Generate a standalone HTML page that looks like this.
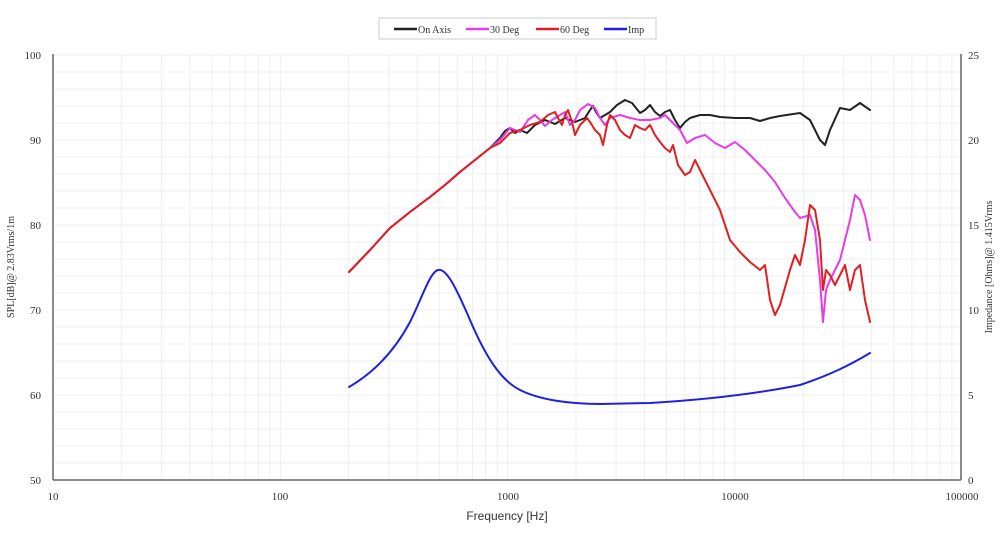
<!DOCTYPE html>
<html><head><meta charset="utf-8"><style>
body{margin:0;background:#fff;width:1000px;height:529px;overflow:hidden}
text{font-family:"Liberation Serif",serif}
.t{font-family:"Liberation Sans",sans-serif;font-size:11px;fill:#333}
</style></head><body>
<svg width="1000" height="529" xmlns="http://www.w3.org/2000/svg">
<path stroke="#efefef" stroke-width="1" fill="none" d="
M121.4 54V480M161.5 54V480M189.8 54V480M211.9 54V480M229.9 54V480M245.1 54V480M258.3 54V480M269.9 54V480M280.3 54V480
M348.7 54V480M388.8 54V480M417.1 54V480M439.2 54V480M457.2 54V480M472.4 54V480M485.6 54V480M497.2 54V480M507.6 54V480
M576 54V480M616.1 54V480M644.4 54V480M666.5 54V480M684.5 54V480M699.7 54V480M712.9 54V480M724.5 54V480M734.9 54V480
M803.3 54V480M843.4 54V480M871.7 54V480M893.8 54V480M911.8 54V480M927 54V480M940.2 54V480M951.8 54V480
M53 55H961M53 72H961M53 89H961M53 106H961M53 123H961M53 140H961M53 157H961M53 174H961M53 191H961M53 208H961M53 225H961M53 242H961M53 259H961M53 276H961M53 293H961M53 310H961M53 327H961M53 344H961M53 361H961M53 378H961M53 395H961M53 412H961M53 429H961M53 446H961M53 463H961"/>
<line x1="53" y1="54" x2="53" y2="480" stroke="#666" stroke-width="1.5"/>
<line x1="53" y1="480" x2="961" y2="480" stroke="#666" stroke-width="1.5"/>
<line x1="961" y1="54" x2="961" y2="480" stroke="#666" stroke-width="1.5"/>
<g class="t" text-anchor="end">
<text x="41" y="59">100</text><text x="41" y="144">90</text><text x="41" y="229">80</text><text x="41" y="314">70</text><text x="41" y="399">60</text><text x="41" y="484">50</text></g>
<g font-size="11" fill="#333"><text x="968" y="59">25</text><text x="968" y="144">20</text><text x="968" y="229">15</text><text x="968" y="314">10</text><text x="968" y="399">5</text><text x="968" y="484">0</text></g>
<g class="t" text-anchor="middle">
<text x="53" y="500">10</text><text x="280" y="500">100</text><text x="508" y="500">1000</text><text x="735" y="500">10000</text><text x="962" y="500">100000</text></g>
<text x="507" y="520" text-anchor="middle" style="font-family:'Liberation Sans',sans-serif;font-size:12px;fill:#333">Frequency [Hz]</text>
<text transform="translate(14,267) rotate(-90)" text-anchor="middle" font-size="10" fill="#333">SPL[dB]@ 2.83Vrms/1m</text>
<text transform="translate(992,267) rotate(-90)" text-anchor="middle" font-size="10" fill="#333">Impedance [Ohms]@ 1.415Vrms</text>
<rect x="379" y="18" width="277" height="21" fill="#fff" stroke="#ccc"/>
<g stroke-width="2.5"><line x1="394" y1="29" x2="417" y2="29" stroke="#222"/><line x1="466" y1="29" x2="489" y2="29" stroke="#e83ce8"/><line x1="536" y1="29" x2="559" y2="29" stroke="#e02020"/><line x1="604" y1="29" x2="627" y2="29" stroke="#2020e0"/></g>
<g font-size="10" fill="#333"><text x="418" y="33">On Axis</text><text x="490" y="33">30 Deg</text><text x="560" y="33">60 Deg</text><text x="628" y="33">Imp</text></g>
<g fill="none" stroke-width="2" stroke-linejoin="round" stroke-linecap="round">
<polyline stroke="#222" points="349,272 370,250 390,228 410,212 430,197 445,185 460,172 475,160 490,148 500,138 505,131 510,128 515,133 520,130 527,133 535,125 545,120 555,124 565,118 575,122 585,118 590,110 593,106 596,112 600,118 605,115 610,112 617,105 625,100 632,103 640,113 645,110 650,105 655,112 660,116 665,112 670,110 675,120 680,128 685,122 690,118 700,115 710,115 720,117 735,118 750,118 760,121 770,118 780,116 800,113 810,120 820,140 825,145 830,130 840,108 850,110 860,103 870,110"/>
<polyline stroke="#e83ce8" points="349,272 370,250 390,228 410,212 430,197 445,185 460,172 475,160 490,148 500,140 510,128 520,132 528,120 535,115 540,120 545,126 552,120 560,115 565,112 570,125 575,120 580,110 588,104 595,108 600,118 605,125 610,118 620,115 630,118 640,120 650,120 660,118 665,115 670,120 675,125 680,130 687,143 695,138 705,135 715,143 725,148 735,142 745,150 755,160 765,170 775,182 785,198 795,212 800,218 810,215 815,230 820,280 823,322 826,290 830,280 840,260 850,220 855,195 860,200 865,215 870,240"/>
<polyline stroke="#e02020" points="349,272 370,250 390,228 410,212 430,197 445,185 460,172 475,160 490,148 500,143 510,133 520,130 530,125 540,122 548,115 555,112 558,118 562,125 565,115 568,110 572,122 575,135 580,125 587,118 590,122 595,130 600,135 603,145 607,125 610,115 615,120 620,130 625,135 630,138 635,125 640,128 645,130 650,125 655,135 660,142 665,148 670,152 673,145 678,165 685,175 690,172 695,160 700,170 705,180 710,190 715,200 720,210 725,225 730,240 740,252 750,262 760,270 765,265 770,300 775,315 780,305 790,270 795,255 800,265 805,240 810,205 815,210 820,240 823,290 826,270 830,275 835,285 840,275 845,265 850,290 855,270 860,265 865,300 870,322"/>
<path stroke="#2020e0" d="M349,387 C375,372 395,350 410,322 C422,298 430,272 438,270 C446,268 455,285 470,320 C485,355 500,380 520,390 C540,400 570,404 600,404 L650,403 C700,400 750,395 800,385 C830,375 850,365 870,353"/>
</g>
</svg>
</body></html>
